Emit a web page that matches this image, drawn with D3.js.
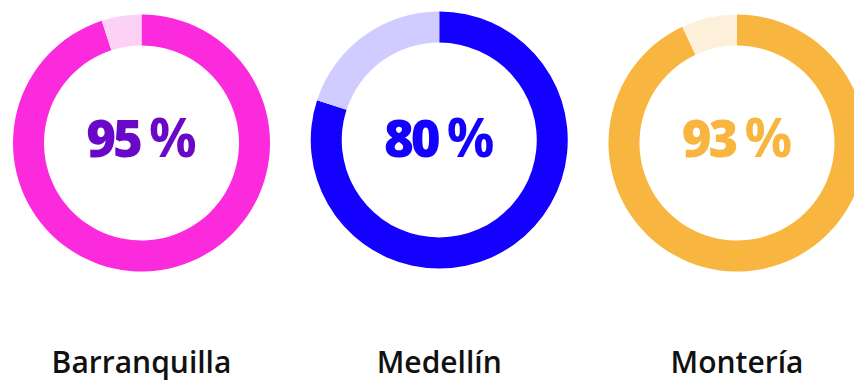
<!DOCTYPE html>
<html>
<head>
<meta charset="utf-8">
<script src="https://cdn.jsdelivr.net/npm/d3@7"></script>
<style>
  html, body { margin: 0; padding: 0; background: #fff; }
  svg { display: block; }
</style>
</head>
<body>
<svg width="854" height="381"></svg>
<script>
// data
const cities = ["Barranquilla", "Medellín", "Montería"];
const values = [95, 80, 93];
const ringColors = ["#fb2adc", "#1400ff", "#f8b641"];
const restColors = ["#fdd0f6", "#d0ccff", "#fdf0da"];
const textColors = ["#6a08c8", "#1400ff", "#f8b641"];

let svg = d3.select("svg");

// layout
let x = d3.scalePoint()
  .domain(cities)
  .range([141.5, 737]);
let cy = [143, 140, 143];
let outer = 128.5, inner = 97.5;

let angle = d3.scaleLinear().domain([0, 100]).range([0, 2 * Math.PI]);
let arc = d3.arc().innerRadius(inner).outerRadius(outer);

let g = svg.selectAll("g.donut")
  .data(cities)
  .enter().append("g")
  .attr("class", "donut")
  .attr("transform", (d, i) => "translate(" + x(d) + "," + cy[i] + ")");

// filled part, clockwise from 12 o'clock
g.append("path")
  .attr("d", (d, i) => arc({startAngle: 0, endAngle: angle(values[i])}))
  .attr("fill", (d, i) => ringColors[i]);

// remainder
g.append("path")
  .attr("d", (d, i) => arc({startAngle: angle(values[i]), endAngle: angle(100)}))
  .attr("fill", (d, i) => restColors[i]);

// percentage in the middle: number + narrow gap + %
let pct = svg.selectAll("text.pct")
  .data(cities)
  .enter().append("text")
  .attr("class", "pct")
  .attr("x", d => x(d))
  .attr("y", 157)
  .attr("text-anchor", "middle")
  .attr("font-family", "'Open Sans', sans-serif")
  .attr("font-weight", 800)
  .attr("font-size", 51)
  .attr("fill", (d, i) => textColors[i]);
pct.append("tspan")
  .attr("letter-spacing", -3)
  .text((d, i) => values[i]);
pct.append("tspan")
  .attr("dx", 9)
  .attr("font-weight", 700)
  .attr("font-size", 53)
  .text("%");

// city labels
svg.selectAll("text.city")
  .data(cities)
  .enter().append("text")
  .attr("class", "city")
  .attr("x", d => x(d))
  .attr("y", 373)
  .attr("text-anchor", "middle")
  .attr("font-family", "'Open Sans', sans-serif")
  .attr("font-weight", 600)
  .attr("font-size", 30)
  .attr("fill", "#111")
  .text(d => d);
</script>
</body>
</html>
